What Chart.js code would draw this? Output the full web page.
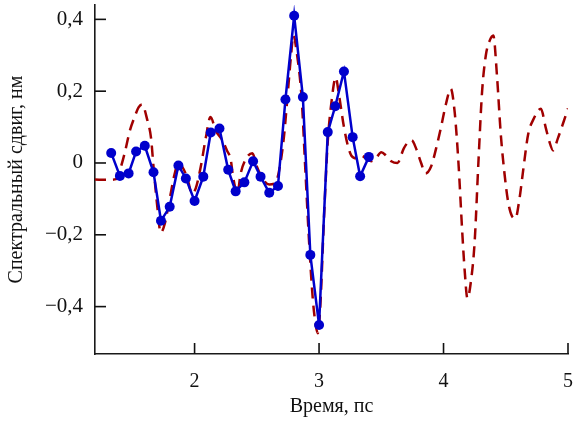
<!DOCTYPE html>
<html>
<head>
<meta charset="utf-8">
<script src="https://cdn.jsdelivr.net/npm/chart.js@4/dist/chart.umd.min.js"></script>
<style>
html,body{margin:0;padding:0;background:#fff;}
canvas{display:block;}
</style>
</head>
<body>
<canvas id="c" width="573" height="421"></canvas>
<script>
// ---- data ----
const measTime = [1.33,1.40,1.47,1.53,1.60,1.67,1.73,1.80,1.87,1.93,2.00,2.07,2.13,2.20,2.27,2.33,2.40,2.47,2.53,2.60,2.67,2.73,2.80,2.87,2.93,3.00,3.07,3.13,3.20,3.27,3.33,3.40];
const measShift = [0.028,-0.036,-0.029,0.032,0.048,-0.026,-0.161,-0.122,-0.007,-0.043,-0.106,-0.038,0.085,0.096,-0.019,-0.079,-0.054,0.005,-0.038,-0.083,-0.064,0.177,0.410,0.184,-0.256,-0.451,0.086,0.158,0.255,0.072,-0.037,0.017];

const calcTime = [1.20,1.30,1.37,1.40,1.44,1.48,1.52,1.55,1.578,1.62,1.65,1.67,1.70,1.728,1.76,1.80,1.84,1.87,1.90,1.94,1.98,2.01,2.05,2.09,2.128,2.17,2.22,2.26,2.29,2.31,2.344,2.37,2.41,2.464,2.50,2.54,2.60,2.65,2.69,2.72,2.75,2.775,2.794,2.82,2.86,2.89,2.92,2.95,2.975,2.99,3.01,3.04,3.07,3.10,3.134,3.16,3.20,3.23,3.26,3.30,3.34,3.38,3.42,3.46,3.50,3.54,3.58,3.63,3.68,3.72,3.744,3.78,3.82,3.856,3.90,3.94,3.98,4.02,4.058,4.09,4.12,4.15,4.17,4.192,4.22,4.25,4.28,4.31,4.34,4.37,4.40,4.43,4.46,4.49,4.52,4.55,4.578,4.61,4.64,4.68,4.72,4.782,4.82,4.85,4.88,4.92,4.96,5.00];
const calcShift = [-0.046,-0.047,-0.045,-0.02,0.03,0.09,0.13,0.155,0.163,0.12,0.07,-0.01,-0.12,-0.194,-0.17,-0.10,-0.03,0.0,-0.01,-0.04,-0.085,-0.07,-0.01,0.07,0.128,0.09,0.065,0.035,0.01,-0.04,-0.085,-0.03,0.01,0.027,-0.01,-0.04,-0.06,-0.055,0.0,0.08,0.20,0.30,0.355,0.31,0.18,-0.02,-0.22,-0.38,-0.455,-0.474,-0.40,-0.15,0.06,0.17,0.238,0.19,0.10,0.05,0.02,0.013,0.02,0.012,0.005,0.015,0.03,0.02,0.005,0.0,0.04,0.06,0.063,0.04,0.0,-0.029,-0.01,0.04,0.10,0.165,0.207,0.14,0.0,-0.19,-0.30,-0.377,-0.33,-0.22,0.0,0.20,0.30,0.34,0.355,0.24,0.08,-0.03,-0.11,-0.148,-0.154,-0.10,-0.02,0.08,0.12,0.151,0.10,0.06,0.035,0.07,0.11,0.152];

const xTicks = [2,3,4,5];
const xTickLabels = ['2','3','4','5'];
const yTicks = [-0.4,-0.2,0,0.2,0.4];
const yTickLabels = ['\u22120,4','\u22120,2','0','0,2','0,4'];

const xTitle = 'Время, пс';
const yTitle = 'Спектральный сдвиг, нм';

// ---- chart ----
const FONT = "'Liberation Serif', 'DejaVu Serif', serif";
const toXY = (xs, ys) => xs.map((x, i) => ({x: x, y: ys[i]}));

function drawInwardTicks(chart) {
  const ctx = chart.ctx;
  const area = chart.chartArea;
  const sx = chart.scales.x, sy = chart.scales.y;
  ctx.save();
  ctx.setLineDash([]);
  ctx.strokeStyle = '#111';
  ctx.lineWidth = 1.6;
  for (const v of xTicks) {
    const px = sx.getPixelForValue(v);
    ctx.beginPath();
    ctx.moveTo(px, area.bottom);
    ctx.lineTo(px, area.bottom - 11);
    ctx.stroke();
  }
  for (const v of yTicks) {
    const py = sy.getPixelForValue(v);
    ctx.beginPath();
    ctx.moveTo(area.left, py);
    ctx.lineTo(area.left + 11, py);
    ctx.stroke();
  }
  ctx.restore();
}

const chart = new Chart(document.getElementById('c'), {
  type: 'line',
  data: {
    datasets: [
      {
        label: 'measured',
        data: toXY(measTime, measShift),
        borderColor: '#0000cc',
        backgroundColor: '#0000cc',
        borderWidth: 2.5,
        pointRadius: 5,
        pointBorderWidth: 0,
        pointBackgroundColor: '#0000cc',
        tension: 0,
        order: 0
      },
      {
        label: 'calc',
        data: toXY(calcTime, calcShift),
        borderColor: '#a00000',
        borderWidth: 2.5,
        borderDash: [11, 7],
        pointRadius: 0,
        cubicInterpolationMode: 'monotone',
        order: 1
      }
    ]
  },
  options: {
    responsive: false,
    animation: false,
    events: [],
    layout: {padding: {top: 4, right: 3, left: 0, bottom: 0}},
    plugins: {legend: {display: false}},
    scales: {
      x: {
        type: 'linear',
        min: 1.2,
        max: 5,
        afterBuildTicks: s => { s.ticks = xTicks.map(v => ({value: v})); },
        afterFit: s => { s.height = 67; },
        grid: {display: false, tickLength: 16},
        border: {display: true, color: '#1a1a1a', width: 1.6},
        ticks: {
          autoSkip: false,
          maxRotation: 0,
          padding: 0,
          color: '#111',
          font: {family: FONT, size: 20},
          callback: v => xTickLabels[xTicks.indexOf(v)] ?? ''
        },
        title: {
          display: true,
          text: xTitle,
          color: '#111',
          font: {family: FONT, size: 20},
          padding: {top: 0, bottom: 2}
        }
      },
      y: {
        type: 'linear',
        min: -0.532,
        max: 0.44,
        afterBuildTicks: s => { s.ticks = yTicks.map(v => ({value: v})); },
        afterFit: s => { s.width = 95; },
        grid: {display: false, tickLength: 12},
        border: {display: true, color: '#1a1a1a', width: 1.6},
        ticks: {
          autoSkip: false,
          padding: 0,
          color: '#111',
          font: {family: FONT, size: 21, lineHeight: 0.4},
          callback: v => {
            const i = yTicks.findIndex(t => Math.abs(t - v) < 1e-9);
            return i >= 0 ? yTickLabels[i] : '';
          }
        },
        title: {
          display: true,
          text: yTitle,
          color: '#111',
          font: {family: FONT, size: 20},
          padding: {top: 5, bottom: 0}
        }
      }
    }
  },
  plugins: [{id: 'inwardTicks', afterDraw: drawInwardTicks}]
});
</script>
</body>
</html>
